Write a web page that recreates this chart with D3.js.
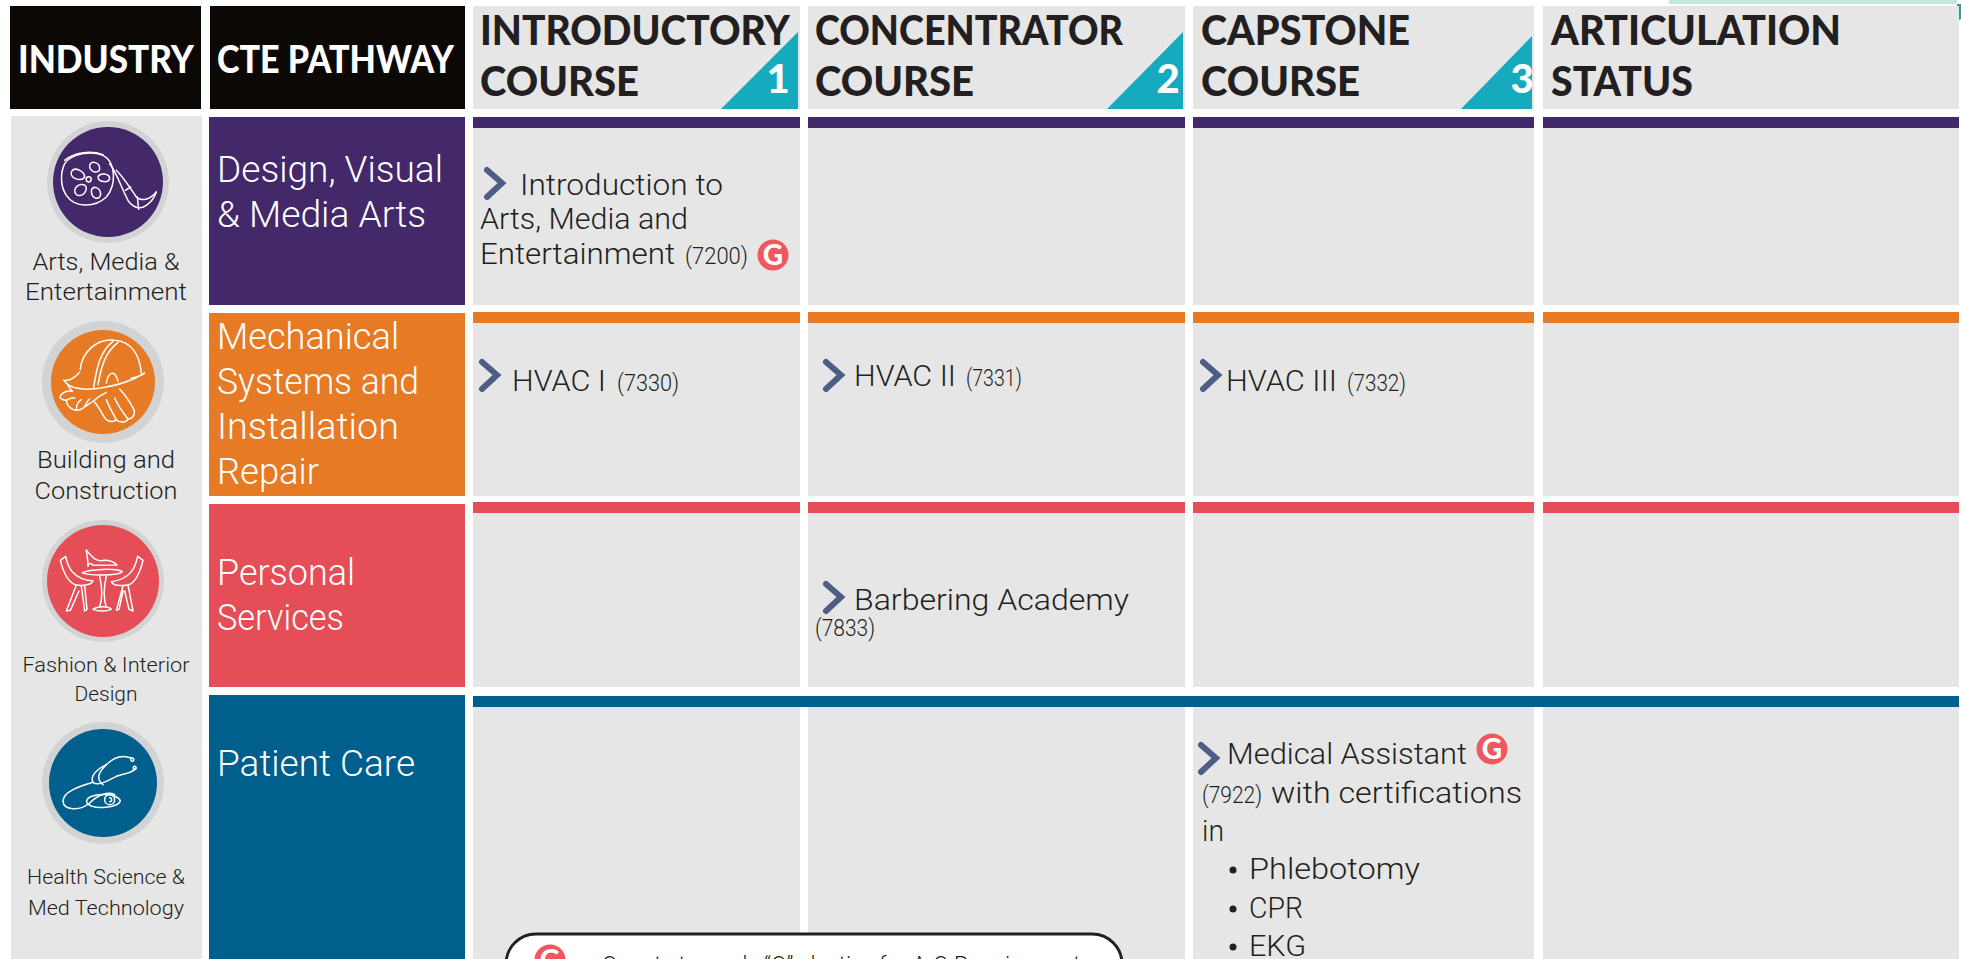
<!DOCTYPE html>
<html>
<head>
<meta charset="utf-8">
<script src="https://cdn.jsdelivr.net/npm/d3@7"></script>
<style>
    body { margin: 0; background: #fff; overflow: hidden; }
    svg { display: block; }
    text { font-family: Roboto, sans-serif; font-weight: 300; fill: #231f20; }
    .bold { font-family: Lato, sans-serif; font-weight: 900; }
    .icon path { fill: none; stroke: #fff; stroke-width: 4.5; stroke-linecap: round; stroke-linejoin: round; }
</style>
</head>
<body>
<div class="chart"></div>
<script>
/* chart content */
const columns = ["Introductory", "Concentrator", "Capstone", "Articulation"];
const columnHeads = [["INTRODUCTORY", "COURSE"], ["CONCENTRATOR", "COURSE"], ["CAPSTONE", "COURSE"], ["ARTICULATION", "STATUS"]];
const columnSteps = ["1", "2", "3"];
const pathways = ["Design", "Mechanical", "Personal", "Patient"];
const pathwayLabels = [["Design, Visual", "& Media Arts"], ["Mechanical", "Systems and", "Installation", "Repair"], ["Personal", "Services"], ["Patient Care"]];
const industryLabels = [["Arts, Media &", "Entertainment"], ["Building and", "Construction"], ["Fashion & Interior", "Design"], ["Health Science &", "Med Technology"]];
const courseLines = [
    "Introduction to", "Arts, Media and", "Entertainment", "(7200)",
    "HVAC I", "(7330)", "HVAC II", "(7331)", "HVAC III", "(7332)",
    "Barbering Academy", "(7833)",
    "Medical Assistant", "(7922)", "with certifications", "in", "Phlebotomy", "CPR", "EKG"
];
const legendText = "Counts towards \u201CG\u201D elective for A-G Requirements";

/* layout, all in page pixels */
const pageWidth = 1961, pageHeight = 959;
const colors = {
    Design: "#43286a", Mechanical: "#e77a25", Personal: "#e54d57", Patient: "#005f8d"
};
const grey = "#e6e6e6", black = "#0c0805", teal = "#15aabd", ring = "#d1d3d4", badge = "#f2575f", chevronColor = "#4e5d85";

const colX = d3.scaleOrdinal().domain(columns).range([473, 808, 1193, 1543]);
const colW = d3.scaleOrdinal().domain(columns).range([327, 377, 341, 416]);
const barY = d3.scaleOrdinal().domain(pathways).range([117, 312, 502, 696]);
const rowBottom = d3.scaleOrdinal().domain(pathways).range([305, 496, 687, 959]);
const blockY = d3.scaleOrdinal().domain(pathways).range([117, 313, 504, 695]);
const barHeight = 11;

// [x, baseline, width, font size] for each text line
const headPos = [
    [[480, 45, 310], [480, 96, 159]],
    [[815, 45, 308], [815, 96, 159]],
    [[1201, 45, 209], [1201, 96, 159]],
    [[1551, 45, 290], [1551, 96, 142]]
];
const pathwayPos = [
    [[217, 182, 226], [217, 227, 209]],
    [[217, 349, 182], [217, 394, 202], [217, 439, 182], [217, 484, 102]],
    [[217, 585, 138], [217, 630, 127]],
    [[217, 776, 198]]
];
const industryPos = [
    [[106, 270, 147, 23], [106, 300, 162, 23]],
    [[106, 468, 138, 23], [106, 499, 143, 23]],
    [[106, 672, 167, 21], [106, 701, 63, 21]],
    [[106, 884, 158, 21], [106, 915, 156, 21]]
];
const coursePos = [
    [520, 195, 203, 30], [480, 229, 208, 30], [480, 264, 195, 30], [685, 264, 63, 24],
    [512, 391, 94, 30], [617, 391, 62, 24], [854, 386, 102, 30], [966, 386, 56, 24], [1226, 391, 111, 30], [1347, 391, 59, 24],
    [854, 610, 275, 30], [815, 636, 60, 24],
    [1227, 764, 240, 30], [1202, 803, 60, 24], [1271, 803, 251, 30], [1202, 841, 22, 30], [1249, 879, 171, 30], [1249, 918, 54, 30], [1249, 956, 57, 30]
];
const chevronPos = [[487, 170], [482, 362], [826, 362], [1203, 362], [826, 584], [1201, 745]];
const badgePos = [[773, 255], [1492, 749]];
const bulletPos = [870, 909, 947];
const trianglePos = [[721, 32], [1107, 32], [1461, 36]];
const digitPos = [[778, 93], [1168, 93], [1522, 93]];
const circlePos = [[108, 182, 55], [103, 382, 52], [103, 581, 56], [103, 783, 54]];

/* icon outlines, drawn on a 360 box and shrunk by 3 */
const iconOrigin = [[48, 122], [43, 323], [43, 521], [43, 723]];
const iconPaths = [
    [
        "M50,125 C70,95 130,85 165,100 C205,120 205,190 175,225 C140,258 80,258 55,220 C35,190 38,150 50,125",
        "M50,115 C80,90 130,85 165,98",
        "M125,130 C130,115 155,120 155,140 C155,155 125,155 125,130",
        "M150,165 C155,150 185,155 185,170 C180,185 150,180 150,165",
        "M130,205 C135,190 155,195 158,215 C158,235 130,235 130,205",
        "M80,205 C85,185 115,180 115,200 C110,225 80,228 80,205",
        "M70,150 C80,130 110,150 110,165 C100,180 65,170 70,150",
        "M122,164 C132,164 132,180 122,180 C112,180 112,164 122,164",
        "M185,125 C205,150 215,185 235,225 C245,250 270,268 295,250 C310,240 320,225 325,210",
        "M205,145 C225,165 245,195 265,225 C275,235 300,240 325,210",
        "M268,225 L272,262",
        "M232,205 L248,195"
    ],
    [
        "M112,140 C115,90 160,45 215,52 C265,55 290,95 295,150",
        "M152,192 C160,150 165,90 210,55",
        "M165,185 C175,130 185,90 225,58",
        "M110,148 C95,165 80,175 62,172 L75,185 C120,215 240,190 305,150 C295,160 265,165 265,165",
        "M190,180 C195,150 215,135 225,175",
        "M75,188 C80,195 85,200 88,205 C65,200 50,215 52,225 C58,232 68,232 70,232 C70,250 90,262 100,262 C120,262 130,245 150,235 C165,222 175,215 190,208",
        "M70,232 C80,225 88,222 95,225",
        "M100,262 C100,245 105,235 115,230",
        "M125,250 C130,240 135,232 140,228",
        "M155,238 C170,255 180,280 190,290 C200,298 215,296 220,290 C230,300 250,300 255,288 C270,288 280,270 270,255 C260,235 245,215 230,198",
        "M190,230 C200,255 212,275 220,290",
        "M215,225 C225,250 245,275 255,288"
    ],
    [
        "M130,88 C135,120 135,130 135,135",
        "M130,88 C145,105 160,125 185,118 C200,118 215,125 222,132 L150,133 C145,125 135,125 135,135",
        "M118,155 C140,145 215,140 238,152 C225,165 135,165 118,155",
        "M170,165 C178,200 178,235 170,258",
        "M190,165 C182,200 182,235 190,258",
        "M150,265 C165,255 195,255 205,265 C190,272 165,272 150,265",
        "M52,118 L68,106 C75,140 90,175 150,180 C145,192 120,195 100,192 C75,185 60,150 52,118",
        "M100,192 L70,270 L82,268 L108,210",
        "M115,195 L125,270 L132,265 L125,195",
        "M300,118 L284,106 C277,140 262,175 205,182 C210,194 235,195 255,192 C280,185 292,150 300,118",
        "M255,192 L270,270 L258,265 L245,210",
        "M240,195 L220,268 L228,265 L240,210"
    ],
    [
        "M265,105 C240,95 215,100 190,125 C160,140 140,160 150,178 C165,190 190,175 220,160 C250,150 270,150 278,135",
        "M190,125 C170,145 155,165 180,185",
        "M150,178 C110,190 60,205 60,235 C62,262 110,265 140,240 C165,215 195,205 215,215",
        "M132,232 C135,212 215,205 232,232 C230,255 150,262 132,240 C130,236 130,234 132,232",
        "M200,215 C220,215 220,245 200,245 C180,245 180,215 200,215",
        "M200,224 C208,224 208,236 200,236",
        "M268,105 C274,105 274,115 268,115 C262,115 262,105 268,105",
        "M275,130 C281,130 281,140 275,140 C269,140 269,130 275,130"
    ]
];

let svg;

/**
 * Adds one line of text squeezed to the width measured on the reference
 */
function addLine(parent, str, pos, size, anchor, cls) {
    return parent.append("text")
        .attr("class", cls || null)
        .attr("x", pos[0])
        .attr("y", pos[1])
        .attr("text-anchor", anchor || "start")
        .attr("font-size", size)
        .attr("textLength", pos[2])
        .attr("lengthAdjust", "spacingAndGlyphs")
        .text(str);
}

function addBadge(parent, cx, cy) {
    parent.append("circle").attr("cx", cx).attr("cy", cy).attr("r", 15.5).attr("fill", badge);
    parent.append("text").attr("class", "bold").attr("x", cx).attr("y", cy + 10)
        .attr("text-anchor", "middle").attr("font-size", 28).style("fill", "#fff").text("G");
}

function createChart() {
    svg = d3.select(".chart").append("svg").attr("width", pageWidth).attr("height", pageHeight);

    // top right corner scraps
    svg.append("rect").attr("x", 1669).attr("y", 0).attr("width", 288).attr("height", 4).attr("fill", "#c3ead9");
    svg.append("path").attr("d", "M1957,4 L1961,4 L1961,19 L1957,21 Z").attr("fill", "#1aa892");

    // black headers
    svg.append("rect").attr("x", 10).attr("y", 6).attr("width", 191).attr("height", 103).attr("fill", black);
    svg.append("rect").attr("x", 210).attr("y", 6).attr("width", 255).attr("height", 103).attr("fill", black);
    addLine(svg, "INDUSTRY", [18, 73, 176], 38, "start", "bold").style("fill", "#fff");
    addLine(svg, "CTE PATHWAY", [217, 73, 237], 38, "start", "bold").style("fill", "#fff");

    // column headers
    svg.selectAll("rect.head").data(columns).enter().append("rect")
        .attr("class", "head")
        .attr("x", d => colX(d)).attr("y", 6)
        .attr("width", d => colW(d)).attr("height", 103)
        .attr("fill", grey);
    columnHeads.forEach((lines, i) => {
        lines.forEach((s, j) => addLine(svg, s, headPos[i][j], 41, "start", "bold"));
    });
    columnSteps.forEach((s, i) => {
        const right = colX(columns[i]) + colW(columns[i]) - 2;
        svg.append("path")
            .attr("d", d3.line()([[trianglePos[i][0], 109], [right, 109], [right, trianglePos[i][1]]]) + "Z")
            .attr("fill", teal);
        svg.append("text").attr("class", "bold").attr("x", digitPos[i][0]).attr("y", digitPos[i][1])
            .attr("text-anchor", "middle").attr("font-size", 40).style("fill", "#fff").text(s);
    });

    // industry column
    svg.append("rect").attr("x", 11).attr("y", 116).attr("width", 191).attr("height", pageHeight - 116).attr("fill", grey);
    const icons = svg.selectAll("g.industry").data(industryLabels).enter().append("g").attr("class", "industry");
    icons.each(function(lines, i) {
        const g = d3.select(this);
        const c = circlePos[i];
        g.append("circle").attr("cx", i === 0 ? 108 : 103).attr("cy", c[1]).attr("r", 61).attr("fill", ring);
        g.append("circle").attr("cx", c[0]).attr("cy", c[1]).attr("r", c[2]).attr("fill", colors[pathways[i]]);
        g.append("g").attr("class", "icon")
            .attr("transform", `translate(${iconOrigin[i][0]},${iconOrigin[i][1]}) scale(${1 / 3})`)
            .selectAll("path").data(iconPaths[i]).enter().append("path").attr("d", d => d);
        lines.forEach((s, j) => addLine(g, s, industryPos[i][j], industryPos[i][j][3], "middle"));
    });

    // pathway blocks
    svg.selectAll("rect.block").data(pathways).enter().append("rect")
        .attr("class", "block")
        .attr("x", 209).attr("width", 256)
        .attr("y", d => blockY(d))
        .attr("height", d => rowBottom(d) - blockY(d))
        .attr("fill", d => colors[d]);
    pathwayLabels.forEach((lines, i) => {
        lines.forEach((s, j) => addLine(svg, s, pathwayPos[i][j], 36).style("fill", "#fff"));
    });

    // grid of course cells with their coloured bar on top
    pathways.forEach(p => {
        columns.forEach(c => {
            svg.append("rect")
                .attr("x", colX(c)).attr("width", colW(c))
                .attr("y", barY(p) + barHeight)
                .attr("height", rowBottom(p) - barY(p) - barHeight)
                .attr("fill", grey);
            svg.append("rect")
                .attr("x", colX(c)).attr("width", colW(c))
                .attr("y", barY(p)).attr("height", barHeight)
                .attr("fill", colors[p]);
        });
    });
    // the patient care bar runs unbroken over all columns
    svg.append("rect")
        .attr("x", colX(columns[0]))
        .attr("width", colX(columns[3]) + colW(columns[3]) - colX(columns[0]))
        .attr("y", barY("Patient")).attr("height", barHeight)
        .attr("fill", colors.Patient);

    // course text
    courseLines.forEach((s, i) => addLine(svg, s, coursePos[i], coursePos[i][3]));
    chevronPos.forEach(p => {
        svg.append("path")
            .attr("d", d3.line()([[p[0], p[1]], [p[0] + 15, p[1] + 13], [p[0], p[1] + 27]]))
            .attr("fill", "none").attr("stroke", chevronColor).attr("stroke-width", 6)
            .attr("stroke-linecap", "round").attr("stroke-linejoin", "miter");
    });
    badgePos.forEach(p => addBadge(svg, p[0], p[1]));
    bulletPos.forEach(y => {
        svg.append("circle").attr("cx", 1233).attr("cy", y).attr("r", 3.5).attr("fill", "#231f20");
    });

    // legend box, runs off the bottom of the page
    svg.append("rect").attr("x", 506).attr("y", 934).attr("width", 616).attr("height", 100).attr("rx", 30)
        .attr("fill", "#fff").attr("stroke", "#231f20").attr("stroke-width", 3);
    addBadge(svg, 550, 960);
    addLine(svg, legendText, [602, 973, 490], 24);
}

createChart();
</script>
</body>
</html>
